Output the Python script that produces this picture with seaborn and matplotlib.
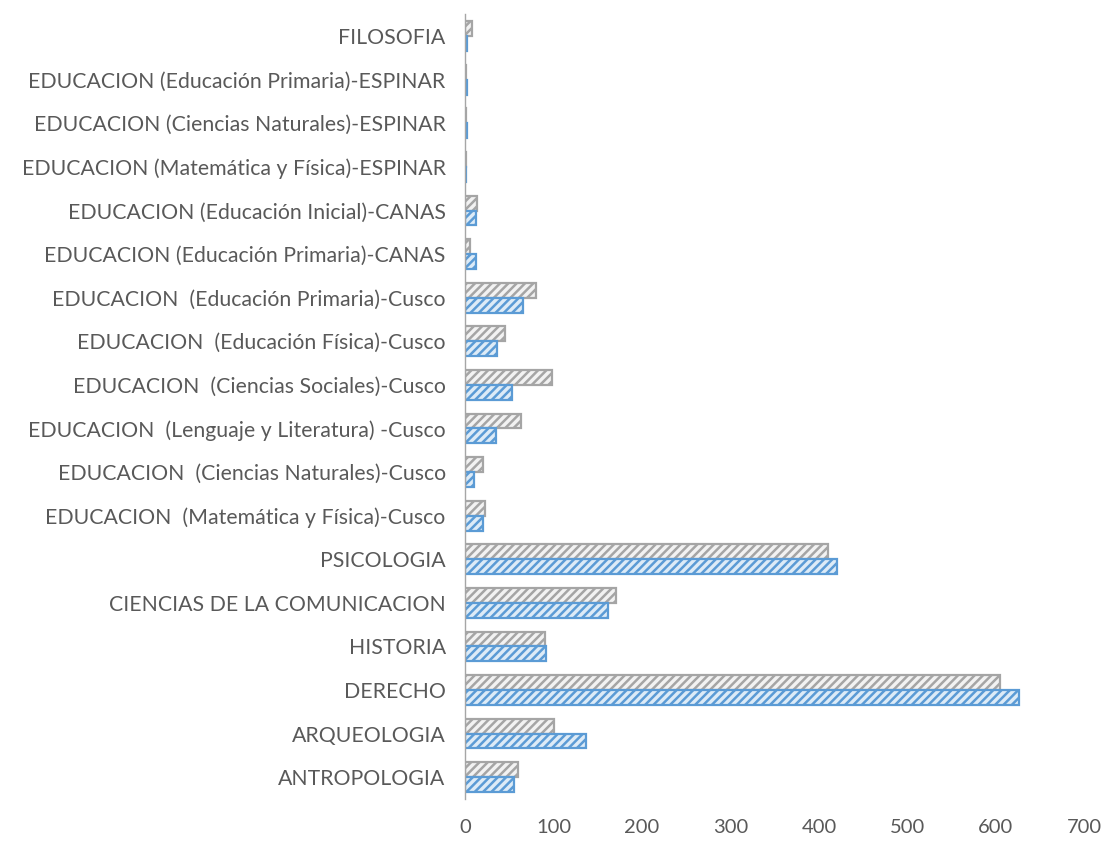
import matplotlib
matplotlib.use("Agg")
import matplotlib.pyplot as plt
import seaborn as sns
import pandas as pd

categories = [
    "FILOSOFIA",
    "EDUCACION (Educación Primaria)-ESPINAR",
    "EDUCACION (Ciencias Naturales)-ESPINAR",
    "EDUCACION (Matemática y Física)-ESPINAR",
    "EDUCACION (Educación Inicial)-CANAS",
    "EDUCACION (Educación Primaria)-CANAS",
    "EDUCACION  (Educación Primaria)-Cusco",
    "EDUCACION  (Educación Física)-Cusco",
    "EDUCACION  (Ciencias Sociales)-Cusco",
    "EDUCACION  (Lenguaje y Literatura) -Cusco",
    "EDUCACION  (Ciencias Naturales)-Cusco",
    "EDUCACION  (Matemática y Física)-Cusco",
    "PSICOLOGIA",
    "CIENCIAS DE LA COMUNICACION",
    "HISTORIA",
    "DERECHO",
    "ARQUEOLOGIA",
    "ANTROPOLOGIA",
]
grey_values = [8, 1, 1, 1, 14, 5, 80, 45, 98, 63, 20, 22, 410, 170, 90, 605, 100, 60]
blue_values = [2, 2, 2, 1, 12, 12, 65, 36, 53, 35, 10, 20, 420, 162, 91, 626, 137, 55]
series_names = ["Serie 2", "Serie 1"]
x_ticks = [0, 100, 200, 300, 400, 500, 600, 700]

df = pd.DataFrame({
    "categoria": categories * 2,
    "valor": grey_values + blue_values,
    "serie": [series_names[0]] * len(categories) + [series_names[1]] * len(categories),
})

sns.set_theme(style="white")
plt.rcParams["font.family"] = ["Lato", "DejaVu Sans"]
plt.rcParams["hatch.linewidth"] = 1.8

fig, ax = plt.subplots(figsize=(11.1, 8.42), dpi=100)
fig.subplots_adjust(left=0.419, right=0.977, top=0.983, bottom=0.051)

fills = {"Serie 2": "#F2F2F2", "Serie 1": "#DDEBF7"}
edges = {"Serie 2": "#A5A5A5", "Serie 1": "#5B9BD5"}

sns.barplot(data=df, y="categoria", x="valor", hue="serie", order=categories,
            hue_order=series_names, orient="h", width=0.68, ax=ax,
            palette=fills, legend=False)

for name, cont in zip(series_names, ax.containers):
    for p in cont:
        p.set_facecolor(fills[name])
        p.set_edgecolor(edges[name])
        p.set_hatch("////")
        p.set_linewidth(1.6)

ax.set_xlim(0, 700)
ax.set_xticks(x_ticks)
ax.set_xticklabels([str(t) for t in x_ticks])
ax.set_xlabel("")
ax.set_ylabel("")
for s in ["top", "right", "bottom"]:
    ax.spines[s].set_visible(False)
ax.spines["left"].set_color("#A6A6A6")
ax.spines["left"].set_linewidth(1.0)
ax.tick_params(axis="both", length=0, colors="#595959")
ax.tick_params(axis="y", pad=14, labelsize=15.3)
ax.tick_params(axis="x", pad=14, labelsize=14.5)

fig.savefig("out.png", dpi=100)
